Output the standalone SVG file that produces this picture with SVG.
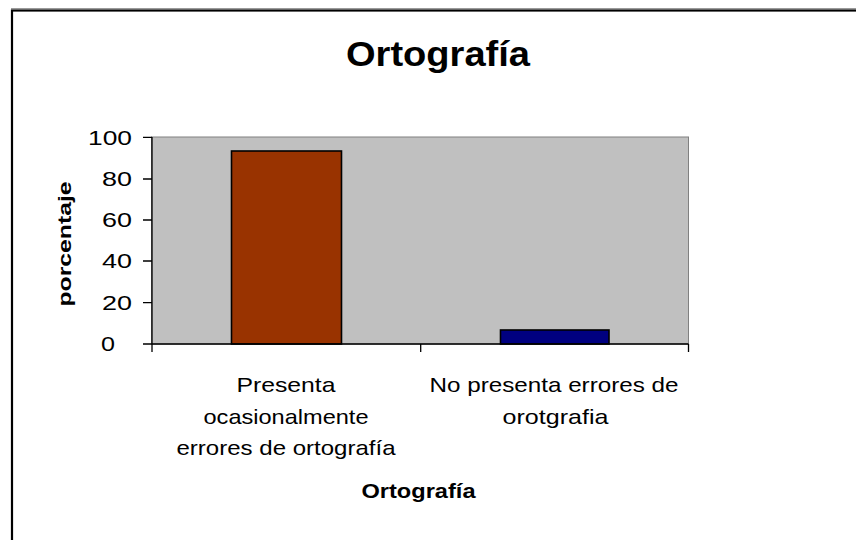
<svg xmlns="http://www.w3.org/2000/svg" width="856" height="540" viewBox="0 0 856 540">
<style>
text{font-family:"Liberation Sans",Arial,sans-serif;fill:#000}
.b{font-weight:bold}
.tick{font-size:19.5px}
.cat{font-size:21px;text-anchor:middle}
.ax{stroke:#000;stroke-width:1.3;fill:none}
.bar{stroke:#000;stroke-width:1.6}
</style>
<rect x="0" y="0" width="856" height="540" fill="#fff"/>
<line x1="11" y1="8.5" x2="856" y2="8.5" stroke="#9a9a9a" stroke-width="1"/>
<rect x="12" y="10.5" width="870" height="560" fill="none" stroke="#000" stroke-width="2.2"/>
<text id="title" class="b" x="346" y="66" font-size="35" textLength="184" lengthAdjust="spacingAndGlyphs">Ortografía</text>
<g id="plot">
<rect x="151.5" y="137" width="537" height="207" fill="#c0c0c0" stroke="#808080" stroke-width="1"/>
</g>
<g id="bar1"><rect class="bar" x="231.5" y="151" width="110" height="193" fill="#993300"/></g>
<g id="bar2"><rect class="bar" x="500.5" y="330" width="108.5" height="14" fill="#000080"/></g>
<g id="axes">
<path class="ax" d="M152 137V352M143 137.3H152M143 179H152M143 220H152M143 261H152M143 302.7H152M143 344H688.5M420.7 344V352M688.5 344V352"/>
</g>
<g id="yticks">
<text class="tick" x="88" y="144.5" textLength="44" lengthAdjust="spacingAndGlyphs">100</text>
<text class="tick" x="102" y="186" textLength="30" lengthAdjust="spacingAndGlyphs">80</text>
<text class="tick" x="102" y="227" textLength="30" lengthAdjust="spacingAndGlyphs">60</text>
<text class="tick" x="102" y="268" textLength="30" lengthAdjust="spacingAndGlyphs">40</text>
<text class="tick" x="102" y="309.7" textLength="30" lengthAdjust="spacingAndGlyphs">20</text>
<text class="tick" x="101" y="351" textLength="14" lengthAdjust="spacingAndGlyphs">0</text>
</g>
<g id="ylabel">
<text class="b" transform="translate(70.5,244) rotate(-90)" x="0" y="0" font-size="19" text-anchor="middle" textLength="125" lengthAdjust="spacingAndGlyphs">porcentaje</text>
</g>
<g id="cat1">
<text class="cat" x="286" y="392" textLength="99" lengthAdjust="spacingAndGlyphs">Presenta</text>
<text class="cat" x="286" y="423.5" textLength="165" lengthAdjust="spacingAndGlyphs">ocasionalmente</text>
<text class="cat" x="286" y="455" textLength="219" lengthAdjust="spacingAndGlyphs">errores de ortografía</text>
</g>
<g id="cat2">
<text class="cat" x="554" y="392" textLength="249" lengthAdjust="spacingAndGlyphs">No presenta errores de</text>
<text class="cat" x="555.5" y="423.5" textLength="106" lengthAdjust="spacingAndGlyphs">orotgrafia</text>
</g>
<g id="xlabel">
<text class="b" x="418.5" y="498" font-size="21" text-anchor="middle" textLength="114" lengthAdjust="spacingAndGlyphs">Ortografía</text>
</g>
</svg>
